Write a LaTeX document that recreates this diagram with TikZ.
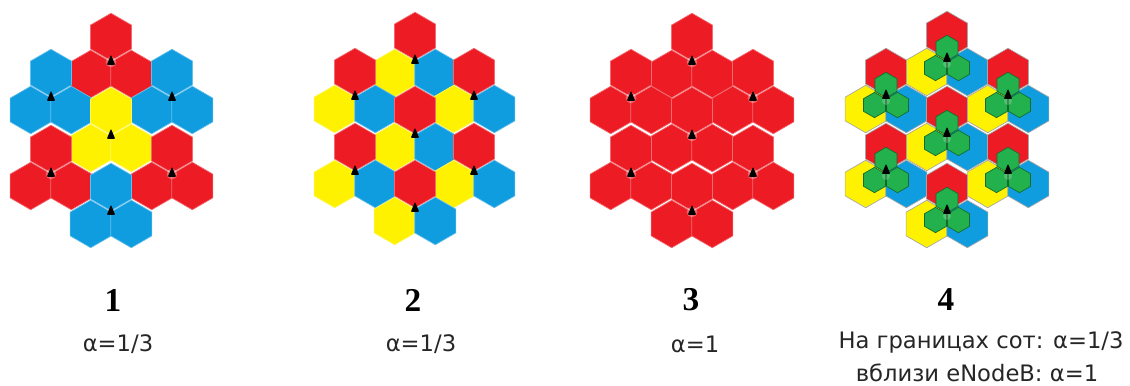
\documentclass[tikz,border=0pt]{standalone}
\usepackage{fontspec}
\setmainfont{DejaVu Sans}
\newfontfamily\numfont{Liberation Serif}
\usetikzlibrary{shapes.geometric}

\definecolor{cellred}{HTML}{ED1C24}
\definecolor{cellblue}{HTML}{0F9DE0}
\definecolor{cellyellow}{HTML}{FFF200}
\definecolor{cellgreen}{HTML}{22B14C}

\newcommand{\hexsite}[6]{%
  \node[cell=#4] (#1a) at (#2,#3-25) {};
  \node[cell=#5] (#1b) at (#2-20.3,#3+12) {};
  \node[cell=#6] (#1c) at (#2+20.3,#3+12) {};
}
\newcommand{\greensite}[3]{%
  \node[inner] (#1i) at (#2,#3-12) {};
  \node[inner] (#1j) at (#2-11.5,#3+8) {};
  \node[inner] (#1k) at (#2+11.5,#3+8) {};
}

\begin{document}
\begin{tikzpicture}[
    x=0.75pt,
    y=-0.75pt,
    cell/.style={
        regular polygon,
        regular polygon sides=6,
        shape border rotate=30,
        minimum size=35.6pt,
        inner sep=0pt,
        outer sep=0pt,
        fill=#1,
        draw=#1!65!white,
        line width=0.5pt
    },
    inner/.style={
        regular polygon,
        regular polygon sides=6,
        shape border rotate=30,
        minimum size=19pt,
        inner sep=0pt,
        outer sep=0pt,
        fill=cellgreen,
        draw=cellgreen!60!black,
        line width=0.5pt
    },
    tower/.style={
        isosceles triangle,
        isosceles triangle apex angle=45,
        shape border rotate=90,
        minimum height=7.5pt,
        minimum width=4.5pt,
        inner sep=0pt,
        rounded corners=0.6pt,
        fill=black
    },
    halo/.style={
        circle,
        minimum size=8pt,
        inner sep=0pt,
        fill=white
    },
    number/.style={font=\numfont\bfseries\fontsize{25}{27}\selectfont},
    caption/.style={font=\fontsize{17}{20}\selectfont,text=black!85}
]
\useasboundingbox (0,0) rectangle (1130,385);

% panel 1
\foreach \n/\sx/\sy/\ca/\op in {
    a/111/62/cellred/0.3,
    b/51/98/cellblue/0,
    c/172/98/cellblue/0,
    d/111/136/cellyellow/0,
    e/51/174/cellred/0.3,
    f/172/174/cellred/0.3,
    g/111/212/cellblue/0}
{
    \hexsite{one\n}{\sx}{\sy}{\ca}{\ca}{\ca}
    \node[halo,opacity=\op] (oneh\n) at (\sx,\sy) {};
    \node[tower] (onet\n) at (\sx,\sy) {};
}

% panel 2
\foreach \n/\sx/\sy in {a/415/61,b/355/97,c/474/97,d/415/135,e/355/172,f/474/172,g/415/209}
{
    \hexsite{two\n}{\sx}{\sy}{cellred}{cellyellow}{cellblue}
    \node[tower] (twot\n) at (\sx,\sy) {};
}

% panel 3
\foreach \n/\sx/\sy in {a/692/62,b/631/98,c/753/98,d/692/136,e/631/174,f/753/174,g/692/212}
{
    \hexsite{three\n}{\sx}{\sy}{cellred}{cellred}{cellred}
    \node[halo,opacity=0.3] (threeh\n) at (\sx,\sy) {};
    \node[tower] (threet\n) at (\sx,\sy) {};
}

% panel 4
\begin{scope}[cell/.append style={draw=black!35}]
\foreach \n/\sx/\sy in {a/947/60,b/886/97,c/1008/97,d/947/135,e/886/172,f/1008/172,g/947/212}
{
    \hexsite{four\n}{\sx}{\sy}{cellred}{cellyellow}{cellblue}
    \greensite{four\n}{\sx}{\sy}
    \node[halo,opacity=0.2,minimum size=6pt] (fourh\n) at (\sx,\sy+4) {};
    \node[tower] (fourt\n) at (\sx,\sy-1) {};
}
\end{scope}

\node[number] (num1) at (113,300) {1};
\node[number] (num2) at (413,300) {2};
\node[number] (num3) at (691,300) {3};
\node[number] (num4) at (946,300) {4};

\node[caption] (cap1) at (118,344) {α=1/3};
\node[caption] (cap2) at (421,344) {α=1/3};
\node[caption] (cap3) at (695,344) {α=1};
\node[caption] (cap4) at (981,342) {На границах сот: α=1/3};
\node[caption] (cap5) at (977,373) {вблизи eNodeB: α=1};

\end{tikzpicture}
\end{document}
